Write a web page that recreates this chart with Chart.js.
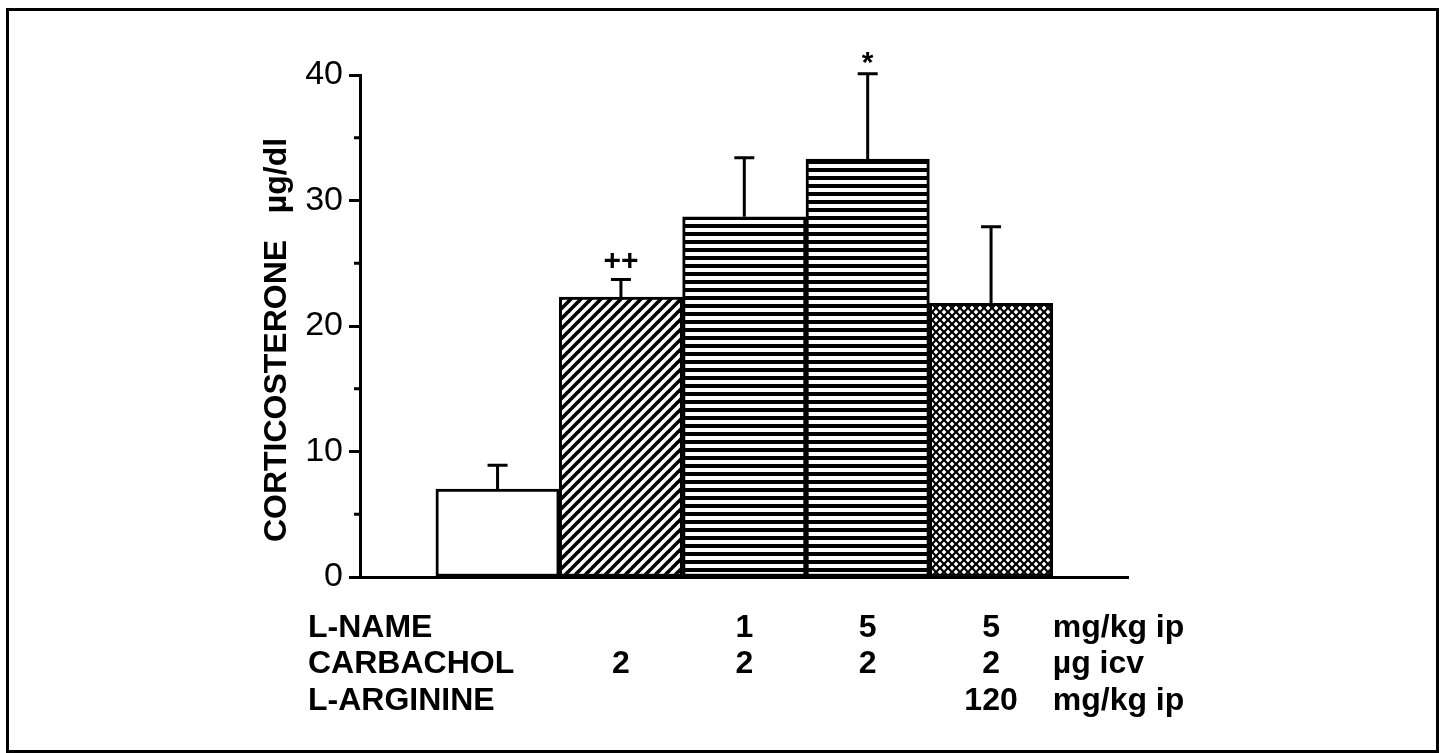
<!DOCTYPE html>
<html>
<head>
<meta charset="utf-8">
<script src="https://cdn.jsdelivr.net/npm/chart.js@4/dist/chart.umd.min.js"></script>
<style>
  html, body { margin: 0; padding: 0; background: #fff; }
  #wrap { width: 1446px; height: 753px; }
</style>
</head>
<body>
<div id="wrap"><canvas id="chBars"></canvas></div>
<script>
// data
var groups = [1, 2, 3, 4, 5];
var means = [7.0, 22.3, 28.7, 33.3, 21.8];
var sems = [1.9, 1.4, 4.7, 6.8, 6.1];
var marks = ['', '++', '', '*', ''];
var yTicks = [0, 10, 20, 30, 40];

var rowNames = ['L-NAME', 'CARBACHOL', 'L-ARGININE'];
var rowUnits = ['mg/kg ip', '\u00b5g icv', 'mg/kg ip'];
var lName = ['', '', '1', '5', '5'];
var carbachol = ['', '2', '2', '2', '2'];
var lArginine = ['', '', '', '', '120'];
var rowValues = [lName, carbachol, lArginine];

var FONT = '"Liberation Sans", Arial, sans-serif';

/* fill patterns */
function makePattern(size, draw) {
  var c = document.createElement('canvas');
  c.width = size; c.height = size;
  var g = c.getContext('2d');
  draw(g, size);
  return g.createPattern(c, 'repeat');
}

var diag = makePattern(10, function (g, s) {
  g.fillStyle = '#fff'; g.fillRect(0, 0, s, s);
  g.strokeStyle = '#000'; g.lineWidth = 3.6;
  [-s, 0, s].forEach(function (k) {
    g.beginPath();
    g.moveTo(k - 1, s + 1);
    g.lineTo(k + s + 1, -1);
    g.stroke();
  });
});

var horiz = makePattern(8, function (g, s) {
  g.fillStyle = '#fff'; g.fillRect(0, 0, s, s);
  g.fillStyle = '#000'; g.fillRect(0, 0, s, 4);
});

var cross = makePattern(8, function (g, s) {
  g.fillStyle = '#000'; g.fillRect(0, 0, s, s);
  g.fillStyle = '#fff';
  var r = 2.4;
  [[4, 4], [0, 0], [8, 0], [0, 8], [8, 8]].forEach(function (p) {
    g.beginPath();
    g.moveTo(p[0], p[1] - r); g.lineTo(p[0] + r, p[1]);
    g.lineTo(p[0], p[1] + r); g.lineTo(p[0] - r, p[1]);
    g.closePath(); g.fill();
  });
});

var fills = ['#ffffff', diag, horiz, horiz, cross];

/* error bars, marks, minor ticks, axis title, dose table, frame */
var extras = {
  id: 'extras',
  afterDatasetsDraw: function (chart) {
    var ctx = chart.ctx, y = chart.scales.y;
    var bars = chart.getDatasetMeta(0).data;
    ctx.save();
    ctx.strokeStyle = '#000'; ctx.lineWidth = 3; ctx.lineCap = 'butt';
    bars.forEach(function (b, i) {
      var top = y.getPixelForValue(means[i] + sems[i]);
      ctx.beginPath();
      ctx.moveTo(b.x, b.y); ctx.lineTo(b.x, top);
      ctx.moveTo(b.x - 10, top); ctx.lineTo(b.x + 10, top);
      ctx.stroke();
      if (marks[i]) {
        ctx.fillStyle = '#000';
        ctx.font = 'bold 30px ' + FONT;
        ctx.textAlign = 'center'; ctx.textBaseline = 'alphabetic';
        ctx.fillText(marks[i], b.x, marks[i] === '*' ? top - 2 : top - 10);
      }
    });
    ctx.restore();
  },
  afterDraw: function (chart) {
    var ctx = chart.ctx, y = chart.scales.y, x = chart.scales.x;
    var left = chart.chartArea.left;
    ctx.save();
    ctx.strokeStyle = '#000'; ctx.lineWidth = 3;
    // minor ticks
    [5, 15, 25, 35].forEach(function (v) {
      var py = y.getPixelForValue(v);
      ctx.beginPath(); ctx.moveTo(left - 6, py); ctx.lineTo(left, py); ctx.stroke();
    });
    // axis title
    ctx.fillStyle = '#000';
    ctx.font = 'bold 32px ' + FONT;
    ctx.translate(277, 340);
    ctx.rotate(-Math.PI / 2);
    ctx.textAlign = 'center'; ctx.textBaseline = 'middle';
    ctx.fillText('CORTICOSTERONE   \u00b5g/dl', 0, 0);
    ctx.setTransform(1, 0, 0, 1, 0, 0);
    // dose table
    ctx.font = 'bold 32px ' + FONT;
    ctx.textBaseline = 'alphabetic';
    var baselines = [637, 673, 710];
    rowNames.forEach(function (name, r) {
      ctx.textAlign = 'left';
      ctx.fillText(name, 308, baselines[r]);
      rowValues[r].forEach(function (v, i) {
        if (!v) return;
        ctx.textAlign = 'center';
        ctx.fillText(v, x.getPixelForValue(groups[i]), baselines[r]);
      });
      ctx.textAlign = 'left';
      ctx.fillText(rowUnits[r], x.getPixelForValue(5.5), baselines[r]);
    });
    // outer frame
    ctx.strokeRect(7.5, 9.5, 1430, 742);
    ctx.restore();
  }
};

new Chart(document.getElementById('chBars'), {
  type: 'bar',
  data: {
    datasets: [{
      data: groups.map(function (g, i) { return { x: g, y: means[i] }; }),
      backgroundColor: fills,
      borderColor: '#000',
      borderWidth: 3,
      borderSkipped: false,
      categoryPercentage: 1,
      barPercentage: 1
    }]
  },
  options: {
    responsive: true,
    maintainAspectRatio: false,
    animation: false,
    events: [],
    layout: { padding: { left: 250, top: 75, right: 318, bottom: 176 } },
    plugins: { legend: { display: false }, tooltip: { enabled: false } },
    scales: {
      x: {
        type: 'linear', min: -0.115, max: 6.11, offset: false,
        ticks: { display: false },
        grid: { display: false, offset: false },
        border: { color: '#000', width: 3 },
        afterFit: function (s) { s.height = 0; }
      },
      y: {
        min: 0, max: 40,
        afterBuildTicks: function (s) { s.ticks = yTicks.map(function (v) { return { value: v }; }); },
        ticks: { color: '#000', padding: 6, font: { family: FONT, size: 34 } },
        grid: { drawOnChartArea: false, tickLength: 11, tickWidth: 3, tickColor: '#000' },
        border: { color: '#000', width: 3 },
        afterFit: function (s) { s.width = 110; }
      }
    }
  },
  plugins: [extras]
});
</script>
</body>
</html>
